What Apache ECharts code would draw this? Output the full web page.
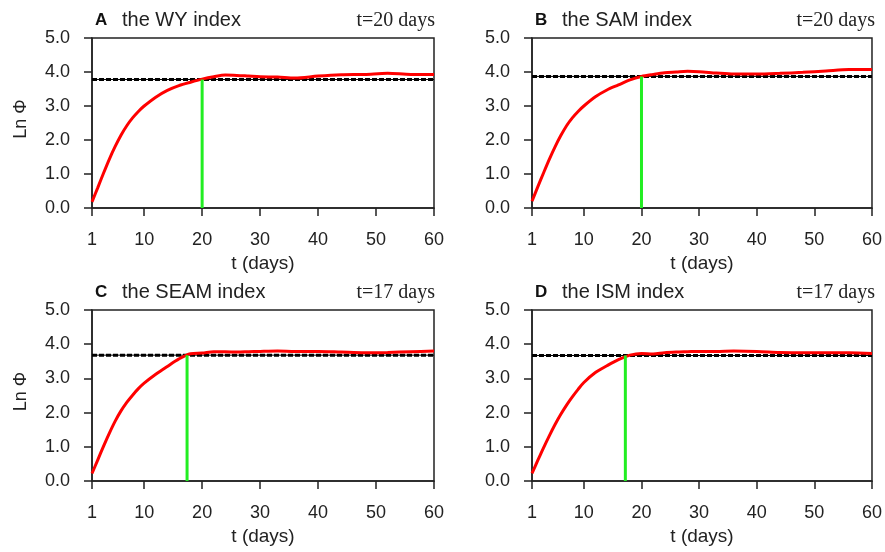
<!DOCTYPE html>
<html><head><meta charset="utf-8">
<script src="https://cdn.jsdelivr.net/npm/echarts@6/dist/echarts.min.js"></script>
<style>html,body{margin:0;padding:0;background:#fff}#c{width:885px;height:552px}</style>
</head><body><div id="c"></div><script>
// ---- data ----
const days = [1,2,3,4,5,6,7,8,9,10,12,14,16,18,20,22,24,26,28,30,33,36,40,44,48,52,56,60];
const lnPhiWY   = [0.18,0.60,1.03,1.44,1.81,2.14,2.42,2.65,2.84,3.00,3.26,3.46,3.60,3.70,3.79,3.86,3.91,3.90,3.88,3.86,3.85,3.82,3.88,3.92,3.93,3.96,3.93,3.93];
const lnPhiSAM  = [0.20,0.62,1.03,1.43,1.80,2.13,2.42,2.65,2.84,3.00,3.27,3.47,3.62,3.77,3.87,3.93,3.98,4.00,4.02,4.01,3.97,3.94,3.94,3.96,3.99,4.03,4.07,4.07];
const lnPhiSEAM = [0.22,0.62,1.02,1.40,1.75,2.05,2.30,2.51,2.70,2.86,3.12,3.35,3.57,3.72,3.74,3.78,3.78,3.77,3.78,3.79,3.80,3.79,3.79,3.77,3.75,3.76,3.78,3.80];
const lnPhiISM  = [0.22,0.60,0.97,1.32,1.65,1.95,2.22,2.46,2.68,2.88,3.17,3.37,3.55,3.68,3.73,3.71,3.75,3.77,3.78,3.79,3.79,3.80,3.79,3.76,3.75,3.75,3.75,3.73];
const panelLetters = ['A','B','C','D'];
const panelTitles = ['the WY index','the SAM index','the SEAM index','the ISM index'];
const dayLabels = ['t=20 days','t=20 days','t=17 days','t=17 days'];
const saturationLevels = [3.78,3.87,3.68,3.67];
const crossDays = [20,20,17.4,17.2];
const xTicks = [1,10,20,30,40,50,60];
const yName = 'Ln Φ';
const xName = 't (days)';

// ---- layout ----
const series4 = [lnPhiWY, lnPhiSAM, lnPhiSEAM, lnPhiISM];
const grids = [
  {left:92, top:38, width:342, height:170},
  {left:532, top:38, width:342, height:170},
  {left:92, top:310, width:342, height:171},
  {left:532, top:310, width:342, height:171}
];
const sans = 'Liberation Sans, Arial, Helvetica, sans-serif';
const serif = 'Liberation Serif, Times New Roman, serif';
const axisCol = '#222';

const option = {
  animation:false,
  backgroundColor:'#fff',
  title:[], grid:[], xAxis:[], yAxis:[], series:[]
};
grids.forEach((g,i)=>{
  option.grid.push(Object.assign({show:true, borderColor:axisCol, borderWidth:1.5, backgroundColor:'transparent'}, g));
  option.title.push({text:panelLetters[i], left:g.left+3, top:g.top-26, padding:0,
    textStyle:{fontFamily:sans, fontWeight:'bold', fontSize:17, color:'#111'}});
  option.title.push({text:panelTitles[i], left:g.left+30, top:g.top-28, padding:0,
    textStyle:{fontFamily:sans, fontWeight:'normal', fontSize:20, color:'#222'}});
  option.title.push({text:dayLabels[i], right:885-(g.left+g.width)-1, top:g.top-27, padding:0,
    textStyle:{fontFamily:serif, fontWeight:'normal', fontSize:20, color:'#222'}});
  option.xAxis.push({
    type:'value', gridIndex:i, min:1, max:60,
    name:xName, nameLocation:'middle', nameGap:46,
    nameTextStyle:{fontFamily:sans, fontSize:19, color:'#222'},
    axisLine:{show:true, onZero:false, lineStyle:{color:axisCol, width:1.5}},
    axisTick:{show:true, length:8, customValues:xTicks, lineStyle:{color:axisCol, width:1.5}},
    axisLabel:{show:true, margin:23, customValues:xTicks, fontFamily:sans, fontSize:18, color:'#222'},
    splitLine:{show:false}
  });
  option.yAxis.push({
    type:'value', gridIndex:i, min:0, max:5, interval:1,
    name:(i%2===0)?yName:'', nameLocation:'middle', nameGap:62,
    nameTextStyle:{fontFamily:sans, fontSize:18, color:'#222', padding:[0,0,0,8]},
    axisLine:{show:true, onZero:false, lineStyle:{color:axisCol, width:1.5}},
    axisTick:{show:true, length:8, lineStyle:{color:axisCol, width:1.5}},
    axisLabel:{show:true, margin:22, fontFamily:sans, fontSize:18, color:'#222', formatter:v=>v.toFixed(1)},
    splitLine:{show:false}
  });
  // saturation level: thin solid + dashed overlay
  option.series.push({type:'line', xAxisIndex:i, yAxisIndex:i, symbol:'none', silent:true,
    data:[[1,saturationLevels[i]],[60,saturationLevels[i]]],
    lineStyle:{color:'#000', width:1}});
  option.series.push({type:'line', xAxisIndex:i, yAxisIndex:i, symbol:'none', silent:true,
    data:[[1,saturationLevels[i]],[60,saturationLevels[i]]],
    lineStyle:{color:'#000', width:3, type:[5,2]}});
  // red curve
  option.series.push({type:'line', xAxisIndex:i, yAxisIndex:i, symbol:'none', smooth:0.3, z:5,
    data:days.map((d,k)=>[d, series4[i][k]]),
    lineStyle:{color:'#ff0000', width:3}});
  // green vertical line
  option.series.push({type:'line', xAxisIndex:i, yAxisIndex:i, symbol:'none', z:6,
    data:[[crossDays[i],0],[crossDays[i],saturationLevels[i]]],
    lineStyle:{color:'#22ee22', width:3}});
});
const chart = echarts.init(document.getElementById('c'), null, {renderer:'canvas'});
chart.setOption(option);
</script></body></html>
